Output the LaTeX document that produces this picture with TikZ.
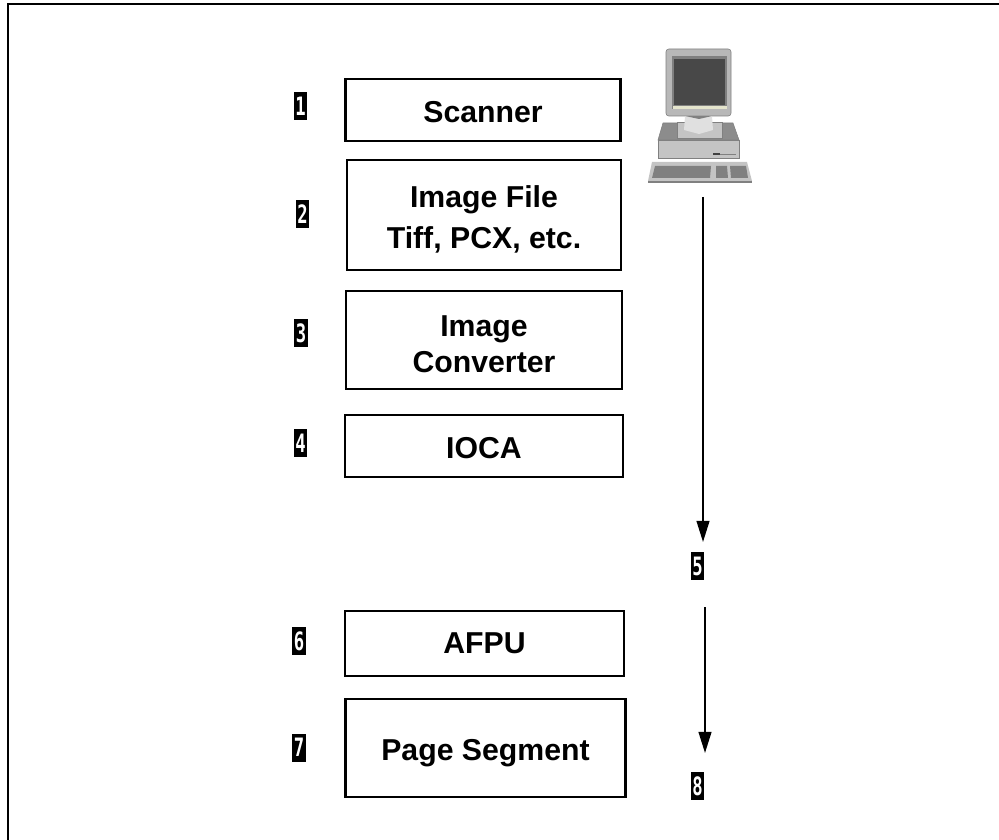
\documentclass[tikz,border=0pt]{standalone}
\usepackage{fontspec}
\setmainfont{Liberation Sans}
\newfontfamily\badgefont{DejaVu Sans Mono}
\newcommand{\stepnum}[1]{\scalebox{0.68}[1]{\bfseries\badgefont #1}}
\newcommand{\dropby}[1]{\rule{0pt}{#1}}
\definecolor{casegray}{HTML}{C4C4C4}
\definecolor{topgray}{HTML}{8C8C8C}
\definecolor{monitorgray}{HTML}{B8B8B8}
\definecolor{screengray}{HTML}{484848}
\definecolor{keygray}{HTML}{808080}
\definecolor{stripcream}{HTML}{E4E4CC}
\usetikzlibrary{arrows.meta}
\tikzset{
  stepbox/.style={draw, line width=1.7pt, font=\fontsize{21.5}{29}\selectfont\bfseries, align=center, inner sep=0pt},
  badge/.style={fill=black, text=white, inner sep=0pt, minimum width=0.34cm, minimum height=0.7cm, font=\fontsize{18}{18}\selectfont},
  flow/.style={-{Triangle[length=0.53cm, width=0.32cm]}, line width=1.4pt},
  frameline/.style={line width=2pt, line cap=rect}
}
\begin{document}
\begin{tikzpicture}[x=0.025cm, y=-0.025cm]
\useasboundingbox (0, 0) rectangle (999, 840);
% outer frame, open on the right and at the bottom
\coordinate (corner) at (8, 4);
\coordinate (frame right) at (999, 4);
\coordinate (frame bottom) at (8, 840);
\draw[frameline] (frame right) -- (corner) -- (frame bottom);
% boxes
\node[stepbox, minimum width=6.875cm, minimum height=1.55cm] (scanner) at (483, 110) {\dropby{18.5pt}Scanner};
\node[stepbox, minimum width=6.86cm, minimum height=2.75cm] (file) at (484, 215) {\dropby{21.3pt}Image File\\Tiff, PCX, etc.};
\node[stepbox, minimum width=6.9cm, minimum height=2.45cm] (converter) at (484, 340) {\dropby{20.4pt}Image\\[-3.5pt]Converter};
\node[stepbox, minimum width=6.94cm, minimum height=1.55cm] (ioca) at (484, 446) {\dropby{18.5pt}IOCA};
\node[stepbox, minimum width=6.96cm, minimum height=1.625cm] (afpu) at (484.5, 643.5) {AFPU};
\node[stepbox, minimum width=7cm, minimum height=2.44cm] (segment) at (485.5, 748) {\dropby{22.7pt}Page Segment};
% numbers
\node[badge] (b1) at (300.5, 106) {\stepnum{1}};
\node[badge] (b2) at (302.5, 214) {\stepnum{2}};
\node[badge] (b3) at (301, 333) {\stepnum{3}};
\node[badge] (b4) at (300.5, 443) {\stepnum{4}};
\node[badge] (b5) at (697.5, 566) {\stepnum{5}};
\node[badge] (b6) at (299, 641) {\stepnum{6}};
\node[badge] (b7) at (299, 747.5) {\stepnum{7}};
\node[badge] (b8) at (697.5, 786) {\stepnum{8}};
% arrows
\coordinate (a start) at (703, 197);
\coordinate (a end) at (703, 542);
\coordinate (c start) at (705, 607);
\coordinate (c end) at (705, 753);
\draw[flow] (a start) -- (a end);
\draw[flow] (c start) -- (c end);
% computer
\filldraw[fill=monitorgray, draw=gray, rounded corners=2pt] (666, 49) rectangle (731, 116);
\fill[keygray] (672, 56) rectangle (727, 109);
\fill[screengray] (674, 59) rectangle (725, 105);
\fill[stripcream] (673, 106) rectangle (727, 109);
\filldraw[fill=topgray, draw=gray] (663, 123) -- (733, 123) -- (739, 140) -- (658, 140) -- cycle;
\filldraw[fill=casegray, draw=gray] (677, 122) -- (722, 122) -- (722, 138) -- (677, 138) -- cycle;
\fill[black!12] (685, 116) -- (712, 116) -- (713, 130) -- (699, 134) -- (684, 130) -- cycle;
\fill[keygray] (685, 116) -- (712, 116) -- (699, 119) -- cycle;
\filldraw[fill=casegray, draw=gray] (658, 140) rectangle (739, 158);
\fill[black!75] (713, 153) rectangle (720, 155);
\fill[keygray] (720, 154) rectangle (736, 155);
\fill[casegray] (652, 162) -- (747, 162) -- (752, 181) -- (648, 181) -- cycle;
\fill[keygray] (648, 181) rectangle (752, 183);
\fill[keygray] (655, 166) -- (711, 166) -- (710, 178) -- (652, 178) -- cycle;
\fill[keygray] (716, 166) -- (727, 166) -- (728, 178) -- (716, 178) -- cycle;
\fill[keygray] (730, 166) -- (746, 166) -- (748, 178) -- (731, 178) -- cycle;
\end{tikzpicture}
\end{document}
